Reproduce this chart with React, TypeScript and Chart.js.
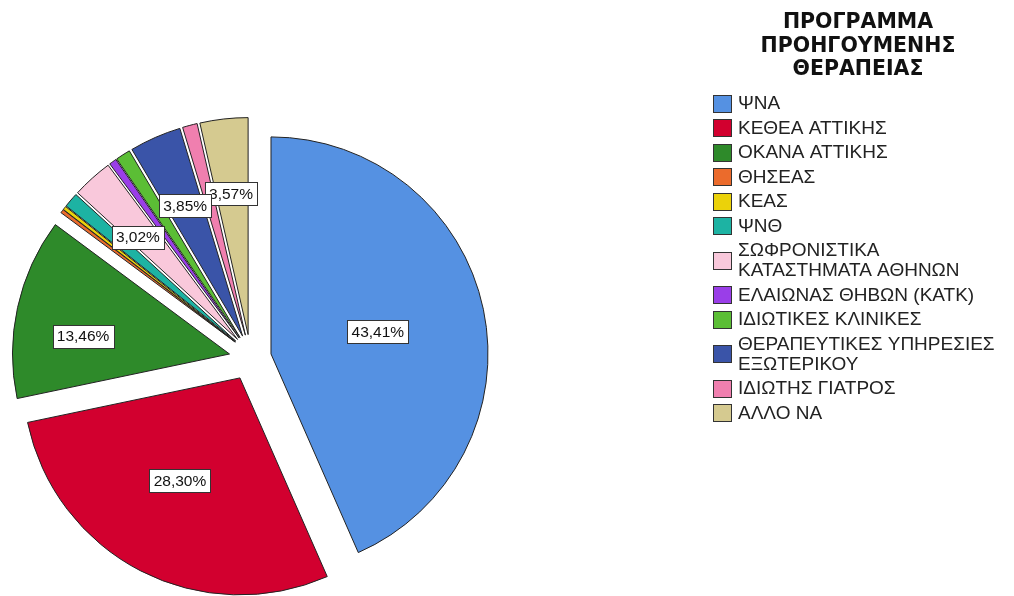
import React, { useEffect, useRef } from "react";
import { Chart, registerables } from "chart.js";

Chart.register(...registerables);

// ---- data ----
const titleLines = ["ΠΡΟΓΡΑΜΜΑ", "ΠΡΟΗΓΟΥΜΕΝΗΣ", "ΘΕΡΑΠΕΙΑΣ"];

const categories: (string | string[])[] = [
  "ΨΝΑ",
  "ΚΕΘΕΑ ΑΤΤΙΚΗΣ",
  "ΟΚΑΝΑ ΑΤΤΙΚΗΣ",
  "ΘΗΣΕΑΣ",
  "ΚΕΑΣ",
  "ΨΝΘ",
  ["ΣΩΦΡΟΝΙΣΤΙΚΑ", "ΚΑΤΑΣΤΗΜΑΤΑ ΑΘΗΝΩΝ"],
  "ΕΛΑΙΩΝΑΣ ΘΗΒΩΝ (ΚΑΤΚ)",
  "ΙΔΙΩΤΙΚΕΣ ΚΛΙΝΙΚΕΣ",
  ["ΘΕΡΑΠΕΥΤΙΚΕΣ ΥΠΗΡΕΣΙΕΣ", "ΕΞΩΤΕΡΙΚΟΥ"],
  "ΙΔΙΩΤΗΣ ΓΙΑΤΡΟΣ",
  "ΑΛΛΟ ΝΑ",
];

// percentages of cases
const percents = [43.41, 28.3, 13.46, 0.27, 0.27, 1.1, 3.02, 0.55, 1.1, 3.85, 1.1, 3.57];

const colors = [
  "#5591E2",
  "#D2002F",
  "#2E8A2A",
  "#EB6B2C",
  "#EBD20A",
  "#1DB3A3",
  "#F9C8DB",
  "#9A3EE8",
  "#5BBE35",
  "#3A54A8",
  "#F07FAF",
  "#D5CA90",
];

// ---- styling constants ----
const RADIUS = 217;
const LABEL_MIN = 3; // only slices >= 3% get a label
const DEG = Math.PI / 180;

// explode: distance (px) and direction tweak (deg) per slice
const explodeDist = [20.75, 26.5, 20.75, 19, 19, 19, 19, 19, 19, 19, 19, 19];
const explodeTurn = [13, -4.3, -13.8, 0, 0, 0, 0, 0, 0, 0, 0, 0];
// label placement: fraction of radius from slice apex and direction tweak (deg)
const labelFrac = [0.503, 0.549, 0.68, 0.65, 0.65, 0.65, 0.658, 0.65, 0.65, 0.658, 0.65, 0.653];
const labelTurn = [0, 3, -5.4, 0, 0, 0, -2.2, 0, 0, 0, 0, -0.5];

const explodePlugin = {
  id: "explodeSlices",
  afterDatasetUpdate(chart: any, args: any) {
    const meta = args.meta || chart.getDatasetMeta(args.index);
    meta.data.forEach((arc: any, i: number) => {
      const half = (arc.startAngle + arc.endAngle) / 2 + (explodeTurn[i] || 0) * DEG;
      const d = explodeDist[i] || 0;
      arc.x = arc.x + Math.cos(half) * d;
      arc.y = arc.y + Math.sin(half) * d;
    });
  },
};

const labelPlugin = {
  id: "pctLabels",
  afterDatasetsDraw(chart: any) {
    const ctx = chart.ctx as CanvasRenderingContext2D;
    const meta = chart.getDatasetMeta(0);
    const data = chart.data.datasets[0].data as number[];
    ctx.save();
    ctx.font = '15.5px "Liberation Sans", Arial, sans-serif';
    ctx.textAlign = "center";
    ctx.textBaseline = "middle";
    for (let i = meta.data.length - 1; i >= 0; i--) {
      const v = data[i];
      if (v < LABEL_MIN) continue;
      const arc = meta.data[i];
      const p = arc.getProps(["x", "y", "startAngle", "endAngle"], true);
      const a = (p.startAngle + p.endAngle) / 2 + (labelTurn[i] || 0) * DEG;
      const r = labelFrac[i] * RADIUS;
      const lx = p.x + Math.cos(a) * r;
      const ly = p.y + Math.sin(a) * r;
      const text = v.toFixed(2).replace(".", ",") + "%";
      const w = Math.round(ctx.measureText(text).width + 8);
      const h = 23;
      const bx = Math.round(lx - w / 2) + 0.5;
      const by = Math.round(ly - h / 2) + 0.5;
      ctx.fillStyle = "#ffffff";
      ctx.fillRect(bx, by, w, h);
      ctx.strokeStyle = "#333333";
      ctx.lineWidth = 1;
      ctx.strokeRect(bx, by, w, h);
      ctx.fillStyle = "#111111";
      ctx.fillText(text, lx, ly + 1);
    }
    ctx.restore();
  },
};

const legendPlugin = {
  id: "sideLegend",
  afterDraw(chart: any) {
    const ctx = chart.ctx as CanvasRenderingContext2D;
    const labels = chart.data.labels as (string | string[])[];
    const bg = chart.data.datasets[0].backgroundColor as string[];
    ctx.save();
    // title
    ctx.fillStyle = "#111111";
    ctx.textAlign = "center";
    ctx.textBaseline = "alphabetic";
    ctx.font = 'bold 20.5px "DejaVu Sans", sans-serif';
    titleLines.forEach((t, i) => ctx.fillText(t, 858, 28 + i * 23.5));
    // items
    ctx.textAlign = "left";
    ctx.textBaseline = "middle";
    ctx.font = '19px "Liberation Sans", Arial, sans-serif';
    let y = 103 - 12.25;
    labels.forEach((lab, i) => {
      const lines = Array.isArray(lab) ? lab : [lab];
      const bh = 24.5 + (lines.length - 1) * 20;
      const cy = y + bh / 2;
      const sx = 713.5;
      const sy = Math.round(cy - 8.5) + 0.5;
      ctx.fillStyle = bg[i];
      ctx.fillRect(sx, sy, 18, 17);
      ctx.strokeStyle = "#333333";
      ctx.lineWidth = 1;
      ctx.strokeRect(sx, sy, 18, 17);
      ctx.fillStyle = "#222222";
      lines.forEach((ln, j) => {
        ctx.fillText(ln, 738, cy + 1 + (j - (lines.length - 1) / 2) * 20);
      });
      y += bh;
    });
    ctx.restore();
  },
};

export default function App() {
  const ref = useRef<HTMLCanvasElement | null>(null);

  useEffect(() => {
    if (!ref.current) return;
    const chart = new Chart(ref.current, {
      type: "pie",
      data: {
        labels: categories as any,
        datasets: [
          {
            data: percents,
            backgroundColor: colors,
            borderColor: "#222222",
            borderWidth: 1,
            radius: RADIUS,
          } as any,
        ],
      },
      options: {
        responsive: false,
        animation: false,
        layout: { padding: { left: 20, right: 533.5, top: 121, bottom: 10 } },
        plugins: {
          legend: { display: false },
          tooltip: { enabled: false },
        } as any,
      },
      plugins: [explodePlugin, labelPlugin, legendPlugin],
    });
    return () => chart.destroy();
  }, []);

  return (
    <div style={{ position: "absolute", left: 0, top: 0, width: 1014, height: 596, background: "#ffffff" }}>
      <canvas ref={ref} width={1014} height={596} style={{ display: "block" }} />
    </div>
  );
}
